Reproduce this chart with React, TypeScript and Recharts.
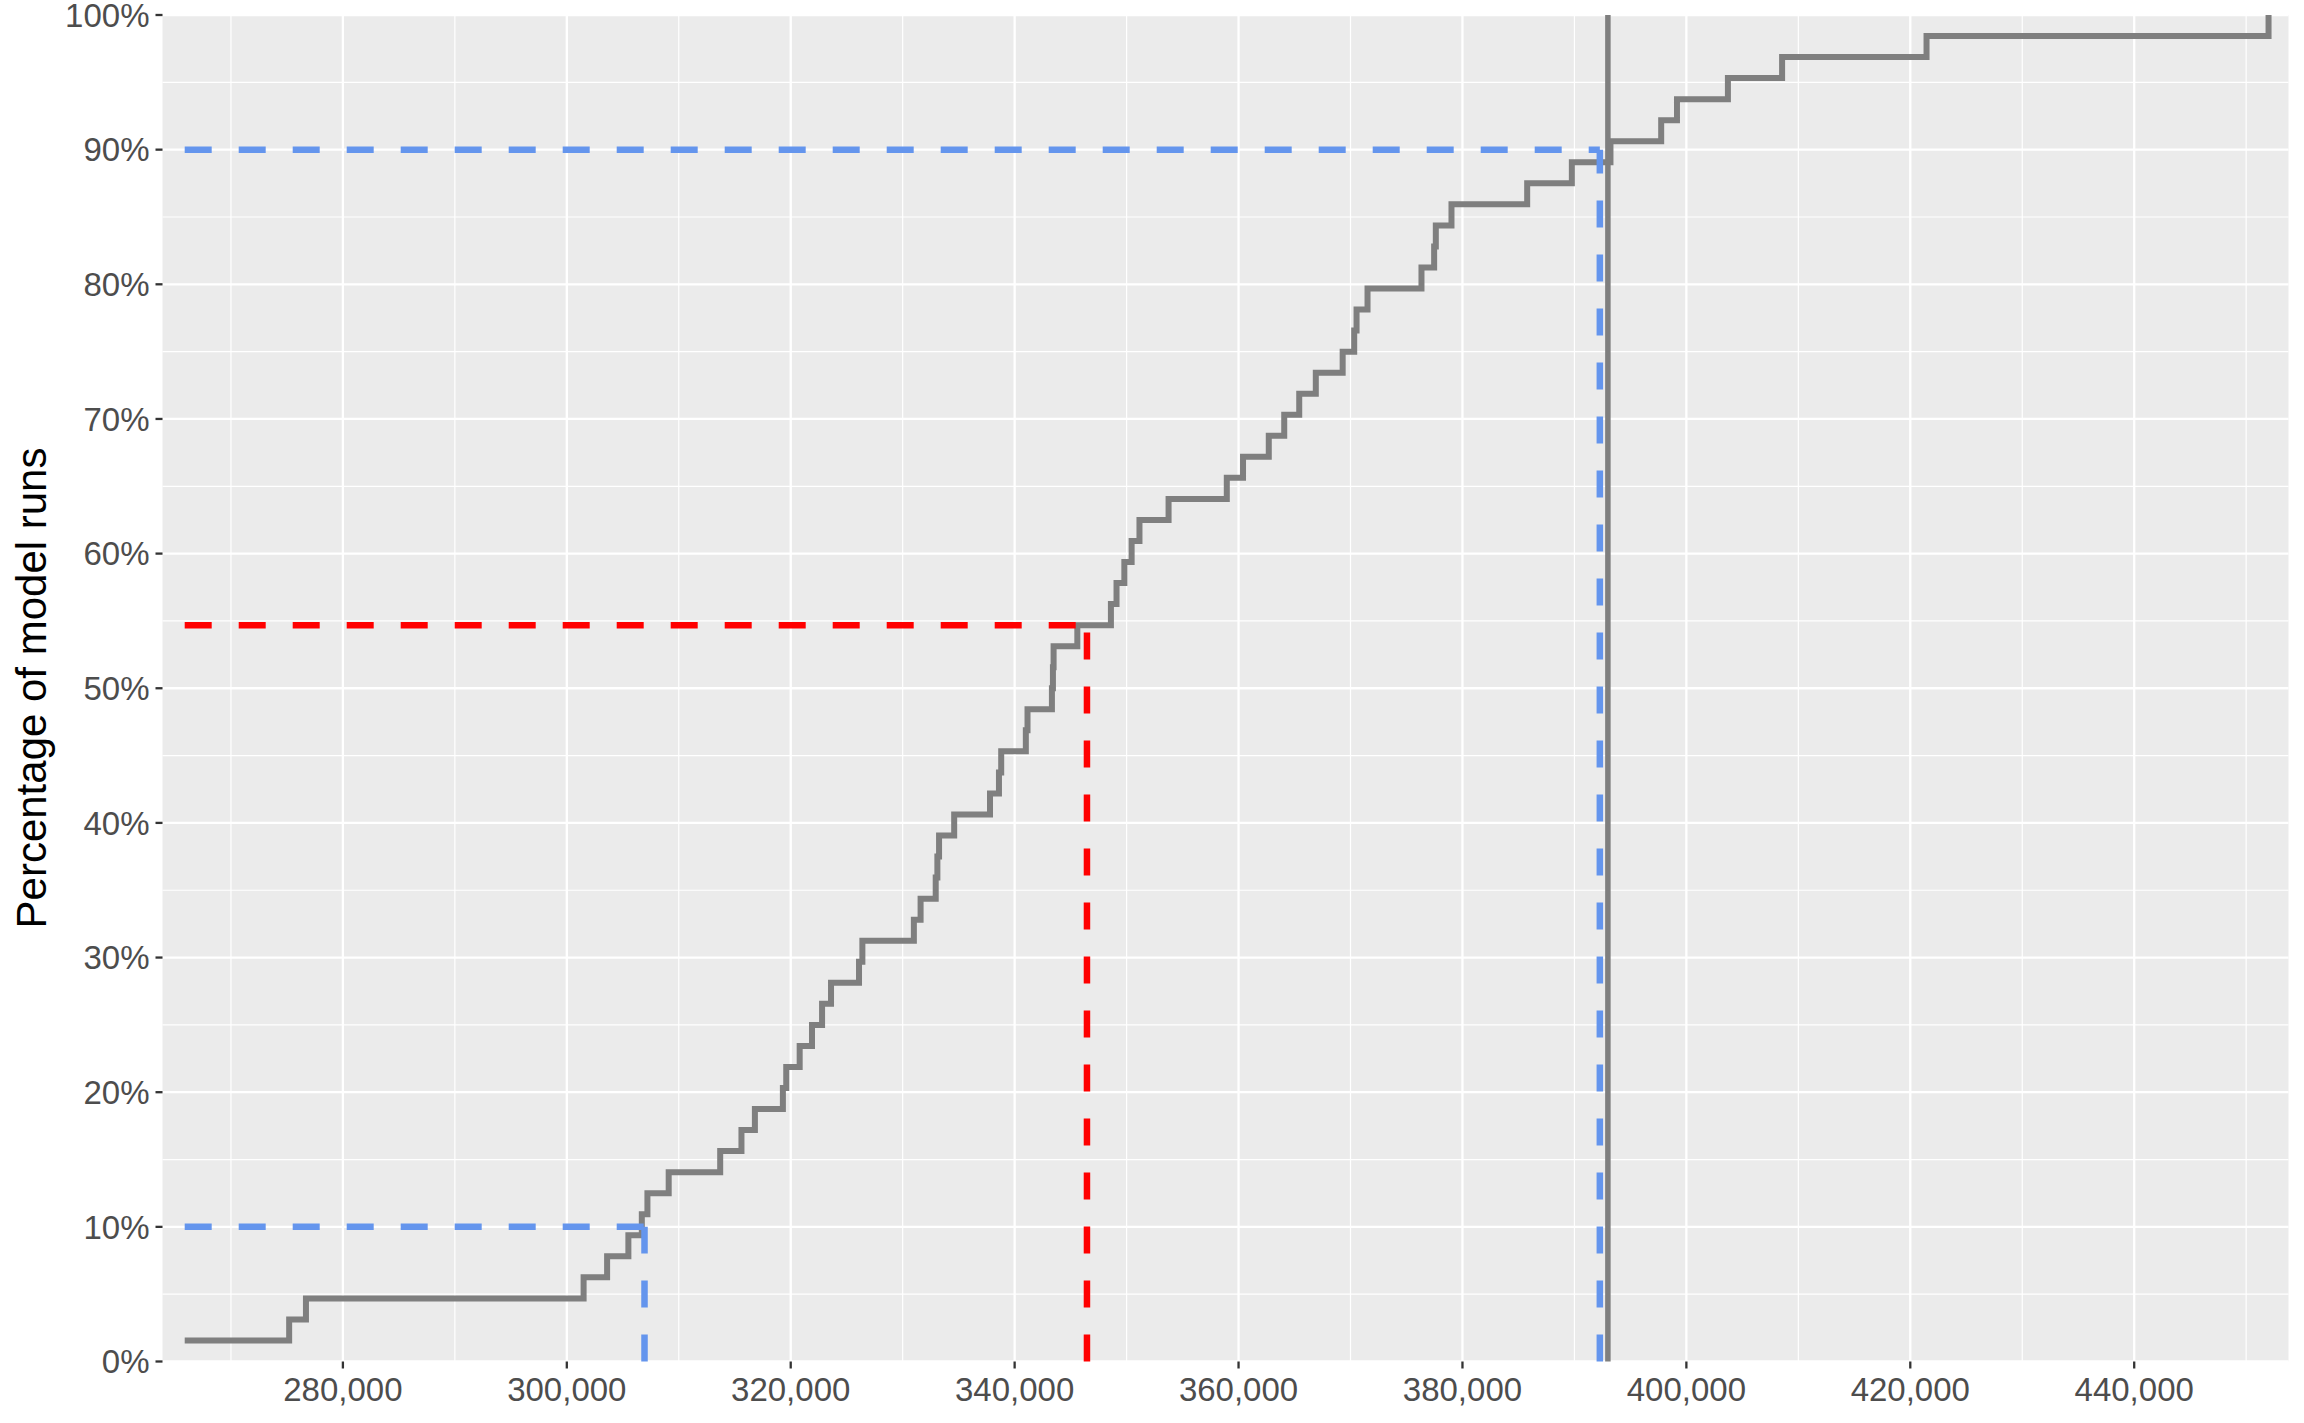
import React from 'react';
import { LineChart, Line, XAxis, YAxis, CartesianGrid, ReferenceLine } from 'recharts';

// Sorted model-run results (x) and their cumulative share of runs in percent (y)
const runValues = [
  265870, 275200, 276700, 301500, 303600, 305500, 306700, 307200,
  309100, 313700, 315600, 316800, 319300, 319600, 320800, 321900,
  322800, 323600, 326100, 326400, 331000, 331600, 332950, 333100,
  333250, 334600, 337800, 338600, 338800, 341000, 341150, 343330,
  343420, 343480, 345600, 348600, 349100, 349800, 350450, 351150,
  353750, 358950, 360400, 362700, 364080, 365420, 366900, 369300,
  370330, 370540, 371520, 376340, 377470, 377620, 379020, 385780,
  389770, 393220, 397750, 399160, 403710, 408550, 421450, 452000,
];
const cumulativePct = [
  1.5625, 3.125, 4.6875, 6.25, 7.8125, 9.375, 10.9375, 12.5,
  14.0625, 15.625, 17.1875, 18.75, 20.3125, 21.875, 23.4375, 25,
  26.5625, 28.125, 29.6875, 31.25, 32.8125, 34.375, 35.9375, 37.5,
  39.0625, 40.625, 42.1875, 43.75, 45.3125, 46.875, 48.4375, 50,
  51.5625, 53.125, 54.6875, 56.25, 57.8125, 59.375, 60.9375, 62.5,
  64.0625, 65.625, 67.1875, 68.75, 70.3125, 71.875, 73.4375, 75,
  76.5625, 78.125, 79.6875, 81.25, 82.8125, 84.375, 85.9375, 87.5,
  89.0625, 90.625, 92.1875, 93.75, 95.3125, 96.875, 98.4375, 100,
];

const xTicks = [280000, 300000, 320000, 340000, 360000, 380000, 400000, 420000, 440000];
const xMinorTicks = [270000, 290000, 310000, 330000, 350000, 370000, 390000, 410000, 430000, 450000];
const yTicks = [0, 10, 20, 30, 40, 50, 60, 70, 80, 90, 100];
const yMinorTicks = [5, 15, 25, 35, 45, 55, 65, 75, 85, 95];
const xDomain = [263887, 453782];

// Reference markers: [x value, percent level]
const lowQuantile = [306940, 10];
const highQuantile = [392270, 90];
const observed = [346460, 54.6875];
const verticalMarker = 392990;
const segStart = 265870;

const fmtX = (v: number) => v.toLocaleString('en-US');
const fmtY = (v: number) => `${v}%`;

export default function App() {
  const data = runValues.map((v, i) => ({ x: v, y: cumulativePct[i] }));
  const tickStyle = { fill: '#4D4D4D', fontSize: 33, fontFamily: 'Liberation Sans' };
  const tickLine = { stroke: '#333333', strokeWidth: 2.3 };
  const dash = '27 27';
  return (
    <div
      style={{
        position: 'absolute',
        left: 0,
        top: 0,
        width: 2304,
        height: 1423,
        background: '#FFFFFF',
        fontFamily: 'Liberation Sans',
      }}
    >
      <LineChart
        width={2304}
        height={1423}
        data={data}
        margin={{ top: 15, right: 15.5, bottom: 0, left: 0 }}
      >
        <CartesianGrid
          fill="#EBEBEB"
          stroke="#FFFFFF"
          strokeWidth={1.2}
          horizontalValues={yMinorTicks}
          verticalValues={xMinorTicks}
        />
        <CartesianGrid
          stroke="#FFFFFF"
          strokeWidth={2.3}
          horizontalValues={yTicks}
          verticalValues={xTicks}
        />
        <XAxis
          type="number"
          dataKey="x"
          domain={xDomain}
          allowDataOverflow
          ticks={xTicks}
          tickFormatter={fmtX}
          height={61.5}
          axisLine={false}
          tickSize={7}
          tickMargin={9}
          tick={tickStyle}
          tickLine={tickLine}
          interval={0}
        />
        <YAxis
          type="number"
          domain={[0, 100]}
          allowDataOverflow
          ticks={yTicks}
          tickFormatter={fmtY}
          width={162.5}
          axisLine={false}
          tickSize={7}
          tickMargin={6}
          tick={tickStyle}
          tickLine={tickLine}
          interval={0}
        />
        <Line
          type="stepAfter"
          dataKey="y"
          stroke="#7F7F7F"
          strokeWidth={6}
          dot={false}
          activeDot={false}
          isAnimationActive={false}
        />
        <ReferenceLine x={verticalMarker} stroke="#7F7F7F" strokeWidth={5.5} />
        <ReferenceLine
          segment={[{ x: segStart, y: lowQuantile[1] }, { x: lowQuantile[0], y: lowQuantile[1] }]}
          stroke="#6495ED"
          strokeWidth={6.5}
          strokeDasharray={dash}
        />
        <ReferenceLine
          segment={[{ x: lowQuantile[0], y: 0 }, { x: lowQuantile[0], y: lowQuantile[1] }]}
          stroke="#6495ED"
          strokeWidth={6.5}
          strokeDasharray={dash}
        />
        <ReferenceLine
          segment={[{ x: segStart, y: highQuantile[1] }, { x: highQuantile[0], y: highQuantile[1] }]}
          stroke="#6495ED"
          strokeWidth={6.5}
          strokeDasharray={dash}
        />
        <ReferenceLine
          segment={[{ x: highQuantile[0], y: 0 }, { x: highQuantile[0], y: highQuantile[1] }]}
          stroke="#6495ED"
          strokeWidth={6.5}
          strokeDasharray={dash}
        />
        <ReferenceLine
          segment={[{ x: segStart, y: observed[1] }, { x: observed[0], y: observed[1] }]}
          stroke="#FF0000"
          strokeWidth={6.5}
          strokeDasharray={dash}
        />
        <ReferenceLine
          segment={[{ x: observed[0], y: 0 }, { x: observed[0], y: observed[1] }]}
          stroke="#FF0000"
          strokeWidth={6.5}
          strokeDasharray={dash}
        />
      </LineChart>
      <div
        style={{
          position: 'absolute',
          left: 32,
          top: 688,
          transform: 'translate(-50%, -50%) rotate(-90deg)',
          fontSize: 42,
          lineHeight: 1.15,
          color: '#000000',
          whiteSpace: 'nowrap',
          fontFamily: 'Liberation Sans',
        }}
      >
        Percentage of model runs
      </div>
    </div>
  );
}
